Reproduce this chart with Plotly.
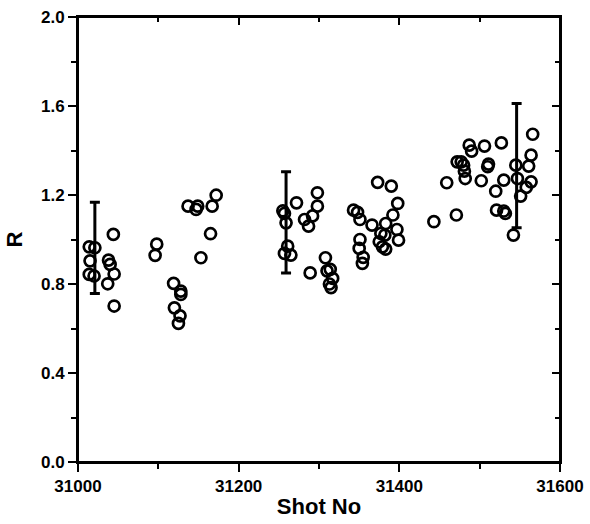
import plotly.graph_objects as go

# Shot numbers and R values
shot = [31014, 31021, 31015, 31014, 31020, 31044, 31038, 31040, 31045, 31037, 31045,
        31098, 31096, 31119, 31128, 31128, 31120, 31127, 31125,
        31137, 31149, 31147, 31172, 31167, 31165, 31153,
        31255, 31257, 31259, 31272, 31261, 31257, 31265,
        31298, 31298, 31292, 31282, 31287, 31289, 31308, 31314, 31310, 31317, 31313, 31315,
        31373, 31390, 31398, 31392, 31343, 31348, 31351, 31366, 31383, 31397, 31377, 31382,
        31399, 31351, 31375, 31379, 31383, 31350, 31355, 31354, 31443,
        31487, 31490, 31506, 31527, 31472, 31477, 31480, 31511, 31510, 31481, 31482, 31459,
        31502, 31530, 31520, 31545, 31521, 31530, 31532, 31471, 31566, 31564, 31561, 31547,
        31564, 31558, 31551, 31542]
r_val = [0.967, 0.963, 0.904, 0.843, 0.836, 1.023, 0.907, 0.888, 0.845, 0.801, 0.701,
         0.979, 0.929, 0.803, 0.768, 0.753, 0.693, 0.657, 0.623,
         1.150, 1.150, 1.135, 1.199, 1.150, 1.026, 0.918,
         1.129, 1.117, 1.075, 1.165, 0.970, 0.938, 0.930,
         1.210, 1.150, 1.106, 1.090, 1.060, 0.850, 0.918, 0.866, 0.859, 0.825, 0.800, 0.784,
         1.257, 1.240, 1.162, 1.110, 1.132, 1.122, 1.090, 1.065, 1.072, 1.045, 1.027, 1.020,
         0.997, 1.000, 0.990, 0.967, 0.957, 0.960, 0.920, 0.893, 1.080,
         1.424, 1.397, 1.420, 1.434, 1.349, 1.349, 1.334, 1.339, 1.327, 1.307, 1.274, 1.255,
         1.264, 1.267, 1.217, 1.334, 1.132, 1.128, 1.117, 1.110, 1.473, 1.379, 1.330, 1.274,
         1.259, 1.234, 1.195, 1.020]

# Error bars: position, centre, half-width
err_shot = [31021, 31259, 31546]
err_center = [0.962, 1.077, 1.332]
err_half = [0.205, 0.227, 0.279]

x_ticks = [31000, 31200, 31400, 31600]
y_ticks = [0.0, 0.4, 0.8, 1.2, 1.6, 2.0]

FONT = "Liberation Sans"

fig = go.Figure()
fig.add_trace(go.Scatter(
    x=shot, y=r_val, mode="markers",
    marker=dict(symbol="circle-open", size=11, color="black", line=dict(width=2.7, color="black")),
    showlegend=False, hoverinfo="x+y"))
fig.add_trace(go.Scatter(
    x=err_shot, y=err_center, mode="markers",
    marker=dict(size=1, color="rgba(0,0,0,0)"),
    error_y=dict(type="data", array=err_half, visible=True, color="black", thickness=3, width=5),
    showlegend=False))
fig.add_trace(go.Scatter(x=[31300], y=[1.0], xaxis="x2", yaxis="y2", mode="markers",
                         marker=dict(size=1, color="rgba(0,0,0,0)"), showlegend=False, hoverinfo="skip"))

tickfont = dict(family=FONT, size=17, color="black", weight="bold")
xr = [31000, 31600]
yr = [0, 2.0]

fig.update_layout(
    width=590, height=524,
    margin=dict(l=78, r=30, t=17, b=62),
    paper_bgcolor="white", plot_bgcolor="white",
    dragmode=False,
    xaxis=dict(range=xr, tickvals=x_ticks, ticktext=[str(v) for v in x_ticks],
               ticks="outside", ticklen=8, tickwidth=2, tickcolor="black",
               minor=dict(dtick=100, tick0=31000, ticks="outside", ticklen=5, tickwidth=2, tickcolor="black"),
               showline=True, linewidth=2, linecolor="black", showgrid=False, zeroline=False,
               tickfont=tickfont, automargin=False, ticklabeloverflow="allow",
               title=dict(text="Shot No", font=dict(family=FONT, size=22, color="black", weight="bold"), standoff=3)),
    yaxis=dict(range=yr, tickvals=y_ticks, ticktext=[f"{v:.1f}" for v in y_ticks],
               ticks="outside", ticklen=8, tickwidth=2, tickcolor="black",
               minor=dict(dtick=0.2, tick0=0, ticks="outside", ticklen=5, tickwidth=2, tickcolor="black"),
               showline=True, linewidth=2, linecolor="black", showgrid=False, zeroline=False,
               tickfont=tickfont, automargin=False, ticklabeloverflow="allow",
               title=dict(text="R", font=dict(family=FONT, size=22, color="black", weight="bold"), standoff=12)),
    xaxis2=dict(range=xr, overlaying="x", side="top", anchor="y2", tickvals=x_ticks, showticklabels=False,
                ticks="inside", ticklen=8, tickwidth=2, tickcolor="black", automargin=False,
                minor=dict(dtick=100, tick0=31000, ticks="inside", ticklen=5, tickwidth=2, tickcolor="black"),
                showline=True, linewidth=2, linecolor="black", showgrid=False, zeroline=False),
    yaxis2=dict(range=yr, overlaying="y", side="right", anchor="x2", tickvals=y_ticks, showticklabels=False,
                ticks="inside", ticklen=8, tickwidth=2, tickcolor="black", automargin=False,
                minor=dict(dtick=0.2, tick0=0, ticks="inside", ticklen=5, tickwidth=2, tickcolor="black"),
                showline=True, linewidth=2, linecolor="black", showgrid=False, zeroline=False),
    shapes=[dict(type="rect", xref="paper", yref="paper", x0=0, x1=1, y0=0, y1=1,
                 line=dict(color="black", width=2), layer="above")],
)

fig.write_html("out.html", config={"displayModeBar": False, "staticPlot": True},
               post_script="document.body.style.margin='0';document.body.style.overflow='hidden';")
